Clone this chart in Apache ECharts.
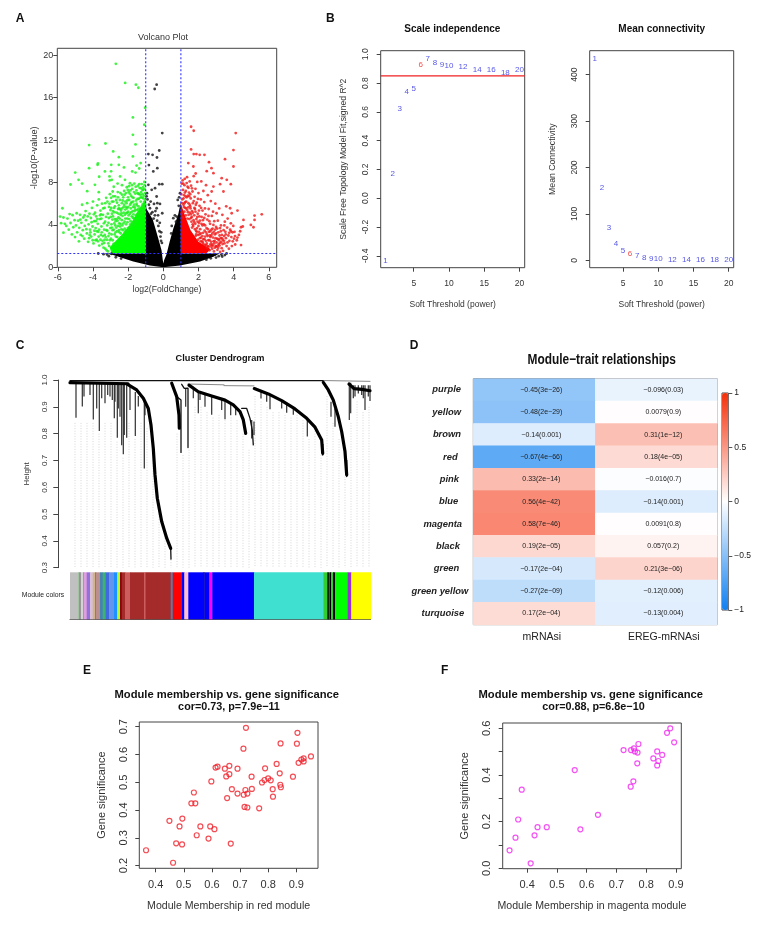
<!DOCTYPE html>
<html><head><meta charset="utf-8">
<style>html,body{margin:0;padding:0;background:#fff}#c{width:767px;height:929px}</style>
<script src="https://cdn.jsdelivr.net/npm/echarts@6/dist/echarts.min.js"></script>
</head><body><div id="c"></div>
<script>
// ---------- Panel A: volcano ----------
const volcanoTicksX=[-6,-4,-2,0,2,4,6];
const volcanoTicksY=[0,4,8,12,16,20];
const volcanoCutoffs={fcLow:-1,fcHigh:1,p:1.3};
const blackMass=[[-1,5.9],[-0.95,5.5],[-0.6,4.5],[-0.42,3.5],[-0.25,2.5],[-0.1,1.6],[-0.03,0.7],[0,0.35],[0.05,0.7],[0.18,1.2],[0.36,2.4],[0.58,3.7],[0.85,5],[1,6.2],[1,1.3],[3.2,1.3],[2.85,1],[2.09,0.54],[0.95,0.16],[0,0],[-0.76,0.16],[-1.71,0.54],[-2.85,1.17],[-3.3,1.3],[-1,1.3]];
const greenMass=[[-1,1.32],[-2.95,1.32],[-3.05,1.9],[-2.7,2.5],[-2.3,3.2],[-1.85,4.1],[-1.45,5.3],[-1,6.4]];
const redMass=[[1,1.32],[2.45,1.32],[2.7,1.7],[2,2.4],[1.55,3.5],[1.25,4.8],[1,6]];
const blackPts=[[-0.38,17.23],[-0.49,16.82],[-0.06,12.66],[-0.23,11.02],[-0.85,10.68],[-0.61,10.61],[-0.36,10.36],[-0.82,9.64],[-0.34,9.35],[-0.57,9.04],[-0.23,7.84],[-0.06,7.84],[-0.47,7.46],[-0.66,7.31],[-0.85,7.78],[-0.93,6.99],[-0.38,6.68],[-0.34,6.05],[-0.19,5.98],[-0.53,5.98],[-0.76,5.57],[-0.06,5.1],[-0.38,5.57],[0.57,4.63],[0.76,4.79],[0.82,6.36],[0.95,6.99],[0.9,6.6],[0.88,5.8],[0.72,4.3],
[-0.9,6.4],[-0.72,6.2],[-0.62,5.2],[-0.48,4.9],[-0.55,4.6],[-0.35,4.4],[-0.28,3.9],[-0.22,3.4],[-0.16,2.9],[-0.13,2.5],[-0.3,4.9],[-0.2,4.2],[-0.95,6.7],[-0.82,5.9],[-0.7,5.05],[-0.45,5.3],[-0.12,3.3],[-0.08,2.3],[0.48,3.9],[0.45,3.2],[0.66,4.9],
[-3.4,1.24],[-3.1,1.05],[-2.95,1.28],[-3.7,1.3],[-2.7,0.95],[-2.4,0.82],[-3.2,1.2],[3.3,1.2],[3.15,1.05],[3.5,1.15],[3,0.92],[2.7,0.85],[2.45,0.72],[3.6,1.3],[2.95,1.2],[3.35,1.02]];
const greenPts=[[-2.7,19.2],[-2.17,17.39],[-1.56,17.23],[-1.42,16.94],[-1.03,15.05],[-1.73,14.14],[-1.08,13.45],[-1.73,12.5],[-1.58,11.59],[-4.22,11.53],[-3.29,11.68],[-2.85,10.93],[-1.73,10.46],[-2.53,10.39],[-3.72,9.8],[-3.74,9.67],[-5.01,8.94],[-4.22,9.35],[-3.32,9.04],[-4.82,8.25],[-5.28,7.81],[-4.62,7.9],[-4.33,7.18],[-3.65,8.54],[-3.89,7.78],[-3.67,7.09],[-2.96,9.67],[-2.24,9.42],[-2.53,9.67],[-1.29,9.83],[-1.52,9.6],[-1.37,9.32],[-1.77,9.04],[-1.58,8.94],[-2.97,9.05],[-3.06,8.57],[-2.93,8.25],[-2.46,8.57],[-2.18,8.25],[-1.9,7.93],[-3.05,8.2],[-2.82,7.6],[-2.6,7.9],[-2.35,7.75],
[-5.87,4.79],[-5.68,4.7],[-5.74,5.57],[-5.81,4.16],[-5.68,3.27],[-5.6,4.1],[-5.52,3.9],[-5.45,4.6],[-5.38,3.55],[-5.33,5.02],[-5.28,4.18],[-5.2,3.1],[-5.16,4.92],[-5.12,3.78],[-5.05,4.45],[-5.02,2.85],
[-4.97,3.95],[-4.93,5.1],[-4.9,3.3],[-4.85,4.4],[-4.8,2.45],[-4.78,3.72],[-4.74,4.95],[-4.7,3.05],[-4.66,4.2],[-4.62,5.9],[-4.58,3.5],[-4.55,4.7],[-4.5,2.7],[-4.47,3.9],[-4.42,5.3],[-4.4,4.45],[-4.35,3.2],[-4.33,6.05],[-4.28,2.4],[-4.25,4.05],[-4.2,5.05],[-4.17,3.55],[-4.12,4.65],[-4.1,2.9],[-4.06,5.6],[-4.03,3.85],[-4,6.2],
[-3.97,2.25],[-3.94,4.35],[-3.91,3.1],[-3.88,5.15],[-3.85,3.7],[-3.82,4.8],[-3.79,2.6],[-3.76,5.85],[-3.73,4.1],[-3.7,3.35],[-3.67,6.4],[-3.64,2.05],[-3.61,4.55],[-3.58,5.35],[-3.55,3.05],[-3.52,3.85],[-3.49,6.0],[-3.46,2.5],[-3.43,4.95],[-3.4,1.85],[-3.37,3.55],[-3.34,5.6],[-3.31,4.3],[-3.28,2.85],[-3.25,6.55],[-3.22,1.6],[-3.19,3.95],[-3.16,5.05],[-3.13,2.25],[-3.1,4.65],[-3.07,3.2],[-3.04,6.9],[-3.01,5.4],
[-2.98,2.7],[-2.95,4.05],[-2.92,6.2],[-2.89,3.5],[-2.86,4.8],[-2.83,2.2],[-2.8,5.6],[-2.77,3.1],[-2.74,6.7],[-2.71,4.35],[-2.68,3.75],[-2.65,5.15],[-2.62,2.85],[-2.59,7.1],[-2.56,4.7],[-2.53,5.85],[-2.5,3.3],[-2.47,6.35],[-2.44,4.1],[-2.41,5.35],[-2.38,3.6],[-2.35,6.85],[-2.32,4.85],[-2.29,2.95],[-2.26,5.7],[-2.23,7.2],[-2.2,4.3],[-2.17,6.2],[-2.14,3.45],[-2.11,5.1],[-2.08,7.55],[-2.05,4.6],[-2.02,3.7],
[-2.9,4.5],[-2.78,5.2],[-2.7,2.9],[-2.58,3.9],[-2.48,4.6],[-2.4,2.8],[-2.33,3.95],[-2.25,5.15],[-2.19,3.3],[-2.12,4.05],[-2.06,5.55],[-2.01,6.6],[-1.98,4.9],[-1.95,7.65],[-1.92,3.8],[-1.89,5.9],[-1.86,4.35],[-1.83,6.75],[-1.8,3.95],[-1.77,7.4],[-1.74,5.3],[-1.71,6.2],[-1.68,4.6],[-1.65,7.9],[-1.62,5.65],[-1.59,6.95],[-1.56,4.9],[-1.53,7.25],[-1.5,5.4],[-1.47,6.45],[-1.44,7.7],[-1.41,5.75],[-1.38,6.9],[-1.35,7.5],[-1.32,5.55],[-1.29,6.2],[-1.26,7.1],[-1.23,7.85],[-1.2,6.55],[-1.17,5.95],[-1.14,7.3],[-1.11,6.75],[-1.08,8.05],[-1.05,6.35],[-1.03,7.0],[-1.02,5.9],
[-2.96,5.6],[-2.84,6.2],[-2.75,5.75],[-2.63,6.1],[-2.55,5.05],[-2.45,5.5],[-2.36,6.05],[-2.28,6.6],[-2.16,5.45],[-2.09,6.05],[-2.04,4.25],[-1.99,5.7],[-1.94,6.35],[-1.9,5.05],[-1.85,5.55],[-1.8,4.8],[-1.76,6.6],[-1.7,5.0],[-1.66,5.9],[-1.6,4.45],[-1.55,6.3],[-1.48,4.95],[-1.43,5.5],[-1.4,6.45],[-1.34,5.15],[-1.28,7.45],[-1.24,5.4],[-1.18,6.9],[-1.12,5.7],[-1.07,7.4],
[-3.36,2.3],[-3.3,1.75],[-3.2,2.6],[-3.15,1.5],[-3.08,2.0],[-3.02,3.7],[-2.94,3.1],[-2.88,2.55],[-2.82,3.55],[-2.72,3.3],[-2.6,4.4],[-2.52,3.5],[-2.42,3.2],[-2.3,3.5],[-2.2,3.65],[-2.1,3.45],[-1.97,3.6],[-1.88,4.05],[-1.78,4.2],[-1.68,4.05],[-1.58,4.3],[-1.45,4.6],[-1.33,4.95],[-1.2,5.2],[-1.1,5.4],[-3.5,3.3],[-3.58,2.6],[-3.68,2.9],[-3.78,3.4],[-3.86,2.55],[-4.02,2.55],[-4.15,3.3],
[-3.44,2.95],[-3.12,4.2],[-2.66,4.55],[-3.33,3.05],[-2.99,4.75],[-2.51,4.15],[-3.18,3.45],[-2.87,5.3],[-2.36,4.45],[-3.26,4.75],[-2.93,3.75],[-2.43,4.95],[-3.04,2.55],[-2.79,4.15],[-2.27,4.15],[-3.09,5.7],[-2.73,3.95],[-2.16,4.6],[-3.38,4.15],[-2.97,6.55],[-2.62,3.4],[-2.04,5.15],[-3.52,4.6],[-2.85,6.7],[-2.57,5.5],[-1.94,4.55],[-3.65,3.55],[-2.68,6.35],[-2.46,3.85],[-1.82,5.2],[-3.75,4.55],[-2.58,6.6],[-2.38,5.1],[-1.73,4.7],[-3.84,4.35],[-2.44,7.0],[-2.23,5.9],[-1.63,5.3],[-3.95,5.0],[-2.31,6.3],[-2.13,5.7],[-1.51,5.85],[-4.08,4.25],[-2.2,6.85],[-2.05,6.3],[-1.42,6.95],[-4.19,3.05],[-2.12,7.0],[-1.97,7.1],[-1.33,6.55],[-4.3,4.8],[-2.02,7.3],[-1.87,7.25],[-1.25,6.65],[-3.55,5.0],[-1.91,6.95],[-1.78,7.75],[-1.16,7.55],[-3.42,5.55],[-1.8,6.15],[-1.67,7.1],[-1.09,6.15],[-3.3,6.05],[-1.69,6.55],[-1.57,7.6],[-1.06,7.75],[-3.18,6.2],[-1.6,5.45],[-1.47,7.0],[-1.13,6.5],[-3.06,6.0],[-1.52,6.0],[-1.37,7.85],[-1.21,5.75],[-2.88,7.15],[-1.44,5.1],[-1.3,6.85],[-1.19,7.3],[-3.6,4.9],[-3.92,3.45],[-4.38,3.6],[-4.48,4.9],[-4.6,2.95],[-4.72,4.5],[-4.22,2.75],[-3.72,2.45],[-3.48,2.2],[-3.34,2.6],[-3.24,3.5],[-3.12,2.95],[-2.92,5.05],[-2.76,4.55],[-2.52,5.55],[-2.34,5.55],[-2.18,4.95],[-2.0,5.25],[-1.84,6.05],[-1.72,5.7]];
const redPts=[[1.58,13.26],[1.73,12.88],[4.12,12.66],[3.99,11.06],[1.58,11.12],[1.73,10.68],[1.88,10.68],[2.07,10.61],[2.34,10.61],[3.51,10.2],[2.6,9.92],[1.42,9.83],[1.71,9.51],[2.74,9.35],[2.47,9.07],[3.99,9.51],[1.84,8.85],[2.85,8.88],[3.32,8.41],[3.23,7.84],[3.61,8.25],[3.84,7.84],[2.85,7.62],[2.75,7.15],[3.42,7.15],[5.6,5],[5.19,4.88],[5.19,4.47],[4.98,4],[5.13,3.78],[4.56,4.47],[4.22,5.35],[3.8,5.57],[3.89,5.1],[4.42,3.78],[4.52,3.85],[4.37,3.4],[4.22,2.8],[4.18,2.55],[4.09,2.15],[4.42,2.1],
[1.02,6.9],[1.05,7.9],[1.08,6.4],[1.1,8.2],[1.12,7.3],[1.15,5.9],[1.18,6.8],[1.2,7.75],[1.22,8.35],[1.25,6.15],[1.28,7.2],[1.3,5.55],[1.33,6.6],[1.35,8.5],[1.38,7.6],[1.4,5.2],[1.43,6.05],[1.46,7.05],[1.48,4.55],[1.5,8.1],[1.53,5.75],[1.56,6.5],[1.58,7.7],[1.6,4.3],[1.63,5.3],[1.66,7.15],[1.68,6.05],[1.7,3.9],[1.73,8.6],[1.76,4.9],[1.78,6.65],[1.8,5.5],[1.83,7.4],[1.86,3.45],[1.88,4.55],[1.9,6.1],[1.93,8.05],[1.96,5.05],[1.98,3.05],[2,7.0],[2.03,4.2],[2.06,5.8],[2.08,2.75],[2.1,3.6],[2.13,6.4],[2.16,8.1],[2.18,4.75],[2.2,2.45],[2.23,5.35],[2.26,3.25],[2.28,7.2],[2.3,4.05],[2.33,6.15],[2.36,2.1],[2.38,2.9],[2.4,5.0],[2.43,7.75],[2.46,3.7],[2.48,1.85],[2.5,4.5],[2.53,6.8],[2.56,2.55],[2.58,5.5],[2.6,3.35],[2.63,1.6],[2.66,4.1],[2.68,2.15],[2.7,6.25],[2.73,3.0],[2.76,4.85],[2.78,1.75],[2.8,3.65],[2.83,5.25],[2.86,2.45],[2.88,1.5],[2.9,4.35],[2.93,3.1],[2.96,6.0],[2.98,2.0],[3,3.8],[3.03,5.1],[3.06,2.7],[3.08,1.65],[3.1,4.4],[3.13,3.3],[3.16,2.2],[3.18,5.55],[3.2,3.0],[3.23,1.45],[3.26,2.75],[3.28,3.95],[3.3,2.4],[3.33,3.05],[3.36,4.95],[3.38,2.6],[3.4,1.55],[3.43,3.5],[3.46,2.95],[3.48,2.25],[3.5,4.3],[3.53,3.35],[3.56,2.75],[3.58,5.75],[3.6,2.0],[3.63,3.75],[3.66,4.6],[3.7,3.0],[3.73,1.75],[3.76,2.5],[3.8,3.55],[3.84,4.15],[3.87,2.85],[3.9,2.0],[3.94,3.3],[3.98,3.9],[4.02,2.7],[4.05,3.35],
[1.05,5.1],[1.12,4.7],[1.2,5.25],[1.28,4.9],[1.36,5.4],[1.44,4.95],[1.52,5.15],[1.58,4.65],[1.64,3.75],[1.72,4.45],[1.8,3.6],[1.84,2.95],[1.92,3.7],[1.97,2.6],[2.02,3.35],[2.08,4.4],[2.14,2.8],[2.22,2.95],[2.28,2.2],[2.35,3.45],[2.42,2.5],[2.52,2.95],[2.58,1.95],[2.64,3.0],[2.72,2.4],[2.82,2.05],[2.92,2.5],[3.02,1.95],[3.12,1.85],[3.22,2.3],[3.32,1.8],[1.15,6.5],[1.25,5.6],[1.42,5.65],[1.55,5.55],[1.68,5.15],[1.85,5.9],[1.95,4.3],[2.05,4.8],[2.15,5.6],[2.25,4.45],[2.38,3.95],[2.48,3.1],[2.62,4.35],[2.74,3.55],[2.85,4.0],[2.95,3.55],
[1.07,6.05],[1.17,5.7],[1.27,6.7],[1.37,4.6],[1.47,6.7],[1.57,5.0],[1.67,4.05],[1.77,5.6],[1.87,3.1],[1.97,6.45],[2.07,3.1],[2.17,4.1],[2.27,2.65],[2.37,5.55],[2.47,2.25],[2.57,4.85],[2.67,3.4],[2.77,2.15],[2.87,3.35],[2.97,2.75],[3.07,3.65],[3.17,2.55],[3.27,3.4],[3.37,2.2],[3.47,3.95],[1.13,7.9],[1.23,7.05],[1.33,7.95],[1.43,7.5],[1.53,6.9],[1.63,7.45],[1.73,6.25],[1.83,5.25],[1.93,4.75],[2.03,5.35],[2.13,3.2],[2.23,3.95],[2.33,4.65],[2.43,3.3],[2.53,2.0],[2.63,2.55],[2.73,1.95],[2.83,2.8],[2.93,1.85],[3.03,2.35],[3.13,2.65],[3.23,3.7],[3.33,2.75],[3.45,2.5],[3.55,3.1],[3.65,2.35],[3.75,3.25],[3.85,3.4],[3.95,2.45],[4.08,2.95],[4.3,3.05],[1.9,3.35],[2.0,3.9],[2.12,2.45],[2.24,2.35],[2.34,2.65],[2.44,2.1],[2.54,3.6],[2.68,2.85],[2.79,3.2],[2.9,2.25],[3.0,3.2],[3.1,2.05],[3.2,2.05],[1.76,4.25],[1.82,4.1],[1.62,4.75],[1.5,5.9],[1.4,6.75],[1.3,6.2],[1.2,6.05]];
// ---------- Panel B ----------
const softPowers=[1,2,3,4,5,6,7,8,9,10,12,14,16,18,20];
const scaleFit=[-0.433,0.172,0.62,0.74,0.759,0.93,0.972,0.94,0.93,0.919,0.914,0.889,0.889,0.868,0.891];
const meanConnectivity=[434,156,70,36,21,14,9,6.5,4.3,3.6,2,1.4,0.7,0.7,0.7];
const chosenPower=6;
const fitCutoff=0.85;
const powerTicks=[5,10,15,20];
const fitTicks=[-0.4,-0.2,0,0.2,0.4,0.6,0.8,1];
const connTicks=[0,100,200,300,400];
// ---------- Panel C: dendrogram, x = leaf order, y = height ----------
const heightTicks=[0.3,0.4,0.5,0.6,0.7,0.8,0.9,1];
const thickBranches=[
 [[0,0.99],[58,0.986]],
 [[58,0.983],[66.7,0.963],[73.3,0.932],[78.3,0.894],[81,0.832],[83.3,0.745],[85,0.646],[87.3,0.559],[91.7,0.472],[96.7,0.41],[100.7,0.372]],
 [[101.7,0.988],[106.7,0.938],[109,0.869],[109.3,0.82]],
 [[119,0.981],[128.3,0.956],[141.7,0.94],[155,0.925],[163.3,0.907],[170,0.882],[173.3,0.851],[175.7,0.801]],
 [[184.3,0.968],[198.3,0.948],[211.7,0.923],[225,0.892],[236.7,0.857],[245,0.824],[251.7,0.776],[252.7,0.726]],
 [[253.3,0.991],[258.3,0.963],[263.3,0.925],[268.3,0.863],[271.7,0.807],[275,0.733],[276.7,0.646]],
 [[279,0.985],[284,0.968],[292,0.965],[300,0.96]]];
const thinBranches=[
 [[0,0.998],[253,0.998]],
 [[171.7,0.894],[176.7,0.894],[180,0.857],[182.3,0.813],[183.3,0.758]],
 [[106.7,0.938],[111,0.925],[111,0.73]],[[111.7,0.984],[114.3,0.969],[118,0.97],[118,0.748]],
 [[100.7,0.372],[101,0.332]],[[252.7,0.76],[252.7,0.72]],[[276.7,0.7],[276.7,0.64]]];
const greyLinks=[[[253,0.998],[300,0.995]],[[118,0.985],[154,0.982]],[[154,0.979],[184,0.978]]];
const dropX=[6,12.3,14,20,23.3,26.7,29.3,31.7,35,37.7,40,42.3,44.3,45,47.3,48.3,50,51.7,53.3,54.3,56.7,60,65.3,68.3,74.3,75,115.7,123.3,128.3,130,135,141.7,151.7,155,160.7,165.7,181.7,184,191,196.7,200,211.7,216.7,223.3,237.3,261,265,279.3,280.7,283.3,285,288.3,291.7,293.3,295,298.3,300];
const dropTop=[0.99,0.99,0.99,0.99,0.99,0.99,0.99,0.99,0.99,0.99,0.99,0.99,0.99,0.99,0.99,0.99,0.99,0.99,0.99,0.99,0.99,0.975,0.955,0.94,0.93,0.92,0.969,0.975,0.956,0.95,0.945,0.94,0.928,0.925,0.915,0.9,0.851,0.845,0.96,0.95,0.945,0.925,0.915,0.9,0.857,0.919,0.894,0.99,0.99,0.98,0.98,0.98,0.98,0.98,0.98,0.98,0.98];
const dropBottom=[0.859,0.901,0.938,0.944,0.853,0.894,0.81,0.932,0.913,0.944,0.938,0.925,0.857,0.919,0.785,0.894,0.863,0.757,0.723,0.795,0.785,0.888,0.791,0.901,0.67,0.869,0.9,0.932,0.876,0.925,0.9,0.87,0.888,0.854,0.869,0.869,0.782,0.795,0.931,0.919,0.891,0.894,0.878,0.87,0.789,0.863,0.826,0.851,0.876,0.932,0.938,0.95,0.944,0.932,0.888,0.938,0.922];
const guideX=[5,11,17,23,29,35,41,47,53,59,65,71,77,83,89,95,101,107,113,119,125,131,137,143,149,155,161,167,173,179,185,191,197,203,209,215,221,227,233,239,245,251,257,263,269,275,281,287,293,299];
const guideTop=[0.84,0.84,0.84,0.84,0.8,0.84,0.84,0.77,0.71,0.84,0.78,0.84,0.82,0.72,0.52,0.42,0.33,0.8,0.72,0.74,0.9,0.9,0.88,0.86,0.87,0.85,0.86,0.85,0.8,0.74,0.94,0.92,0.9,0.88,0.88,0.87,0.86,0.87,0.85,0.78,0.81,0.72,0.94,0.84,0.78,0.64,0.84,0.92,0.88,0.9];
const moduleBands=[[0,8.3,'silver'],[8.3,9.3,'darkseagreen'],[9.3,10.7,'grey'],[10.7,13.3,'lightgrey'],[13.3,14,'mediumorchid'],[14,16.7,'plum'],[16.7,20,'mediumpurple'],[20,22.7,'thistle'],[22.7,25,'tan'],[25,26,'grey'],[26,30,'rosybrown'],[30,32.7,'steelblue'],[32.7,35.3,'mediumseagreen'],[35.3,39.3,'royalblue'],[39.3,44,'cornflowerblue'],[44,47.3,'dodgerblue'],[47.3,50,'greenyellow'],[50,51.7,'darkred'],[51.7,55,'brown'],[55,60,'indianred'],[60,74,'brown'],[74,75.3,'indianred'],[75.3,100.7,'brown'],[100.7,102.7,'steelblue'],[102.7,112,'red'],[112,114.3,'blue'],[114.3,118.3,'pink'],[118.3,133.3,'blue'],[133.3,134.3,'black'],[134.3,139.3,'blue'],[139.3,142.3,'magenta'],[142.3,184,'blue'],[184,253.3,'turquoise'],[253.3,257.3,'limegreen'],[257.3,258.7,'black'],[258.7,260,'green'],[260,261,'black'],[261,263,'limegreen'],[263,265,'black'],[265,277.7,'lime'],[277.7,281.3,'darkorchid'],[281.3,300.7,'yellow']];
// ---------- Panel D ----------
const moduleNames=['purple','yellow','brown','red','pink','blue','magenta','black','green','green yellow','turquoise'];
const traits=['mRNAsi','EREG-mRNAsi'];
const mrnaCor=[-0.45,-0.48,-0.14,-0.67,0.33,0.56,0.58,0.19,-0.17,-0.27,0.17];
const mrnaP=['3e−26','2e−29','0.001','4e−66','2e−14','4e−42','7e−46','2e−05','2e−04','2e−09','2e−04'];
const eregCor=[-0.096,0.0079,0.31,0.18,-0.016,-0.14,0.0091,0.057,0.21,-0.12,-0.13];
const eregP=['0.03','0.9','1e−12','4e−05','0.7','0.001','0.8','0.2','3e−06','0.006','0.004'];
// ---------- Panels E, F ----------
const redMM=[0.366,0.462,0.449,0.473,0.494,0.485,0.495,0.527,0.541,0.536,0.546,0.559,0.588,0.594,0.609,0.598,0.613,0.62,0.646,0.651,0.662,0.662,0.654,0.667,0.671,0.691,0.691,0.713,0.719,0.716,0.726,0.726,0.712,0.721,0.741,0.742,0.768,0.778,0.787,0.789,0.8,0.809,0.816,0.817,0.83,0.841,0.844,0.843,0.845,0.888,0.902,0.904,0.908,0.918,0.926,0.926,0.952];
const redGS=[0.255,0.21,0.361,0.28,0.276,0.341,0.369,0.424,0.424,0.463,0.309,0.341,0.297,0.341,0.331,0.503,0.553,0.556,0.549,0.521,0.559,0.529,0.443,0.279,0.475,0.549,0.459,0.455,0.472,0.411,0.409,0.459,0.621,0.696,0.52,0.476,0.406,0.499,0.508,0.55,0.514,0.507,0.475,0.448,0.566,0.532,0.64,0.491,0.482,0.52,0.639,0.678,0.57,0.582,0.586,0.575,0.593];
const magentaMM=[0.341,0.361,0.37,0.382,0.412,0.425,0.435,0.466,0.56,0.579,0.638,0.724,0.748,0.757,0.749,0.759,0.762,0.771,0.77,0.774,0.824,0.837,0.841,0.837,0.854,0.87,0.881,0.894];
const magentaGS=[0.077,0.131,0.209,0.337,0.021,0.141,0.176,0.176,0.421,0.167,0.229,0.507,0.35,0.373,0.507,0.514,0.501,0.496,0.45,0.533,0.471,0.501,0.46,0.441,0.486,0.581,0.6,0.54];
const redTicksX=[0.4,0.5,0.6,0.7,0.8,0.9];
const redTicksY=[0.2,0.3,0.4,0.5,0.6,0.7];
const magTicksX=[0.4,0.5,0.6,0.7,0.8,0.9];
const magTicksY=[0,0.1,0.2,0.3,0.4,0.5,0.6];
const magLabelsY=[0,0.2,0.4,0.6];

// ---------- Chart ----------
const FONT='"Liberation Sans",Arial,sans-serif';
const GREY='#444', TXT='#333';
function fmt(d){return v=>v.toFixed(d);}
function ax(grid,min,max,ticks,labels,dec,o){o=o||{};return {
  type:'value',gridIndex:grid,min,max,
  axisLine:{show:false,onZero:false},splitLine:{show:false},
  axisTick:{show:true,length:o.tick||4,lineStyle:{color:GREY,width:1},customValues:ticks},
  axisLabel:{show:true,customValues:labels,formatter:fmt(dec),color:TXT,fontFamily:FONT,fontSize:o.fs||8.5,margin:o.margin||4,rotate:o.rotate||0},
  name:o.name||'',nameLocation:'middle',nameGap:o.gap||20,
  nameTextStyle:{color:TXT,fontFamily:FONT,fontSize:o.nfs||8.5}};}
const grids=[
 {left:57.3,top:48.3,width:219.4,height:219},
 {left:380.7,top:50.7,width:144,height:217},
 {left:589.7,top:50.7,width:144,height:217},
 {left:70,top:380,width:300.7,height:187.7,show:false},
 {left:70,top:572.3,width:300.7,height:47,show:false},
 {left:473.3,top:378.7,width:244,height:246},
 {left:722,top:393,width:6.3,height:217},
 {left:139.3,top:722,width:178.7,height:146.3},
 {left:502.7,top:723,width:178.6,height:145.7}
].map(g=>Object.assign({show:true,borderColor:GREY,borderWidth:1,backgroundColor:'transparent'},g));
grids[5].borderColor='#888';

function polyFill(grid,pts,color,z){return {type:'custom',xAxisIndex:grid,yAxisIndex:grid,silent:true,z,clip:true,data:[[0,0]],
  renderItem:(p,api)=>({type:'polygon',shape:{points:pts.map(q=>api.coord(q))},style:{fill:color}})};}
function dots(grid,pts,color,z){return {type:'scatter',xAxisIndex:grid,yAxisIndex:grid,data:pts,symbolSize:2.8,silent:true,z,large:false,itemStyle:{color}};}
function rule(grid,a,b,color,dash,z){return {type:'line',xAxisIndex:grid,yAxisIndex:grid,data:[a,b],showSymbol:false,silent:true,z,
  lineStyle:{color,width:1.1,type:dash?[2,2]:'solid'}};}
function branchLines(grid,list,color,width,z){return list.map(pts=>({type:'line',xAxisIndex:grid,yAxisIndex:grid,data:pts,showSymbol:false,silent:true,z,clip:false,
  lineStyle:{color,width,cap:'round',join:'round'}}));}
function powerLabels(grid,ys){return {type:'scatter',xAxisIndex:grid,yAxisIndex:grid,symbolSize:10,silent:true,z:5,
  itemStyle:{color:'transparent'},
  data:softPowers.map((s,i)=>({value:[s,ys[i]],label:{color:s===chosenPower?'#f02020':'#2a2ae0'}})),
  label:{show:true,position:'inside',fontFamily:FONT,fontSize:8,formatter:p=>String(p.value[0])}};}
function openDots(grid,xs,ys,color){return {type:'scatter',xAxisIndex:grid,yAxisIndex:grid,silent:true,symbolSize:5,
  data:xs.map((x,i)=>[x,ys[i]]),itemStyle:{color:'transparent',borderColor:color,borderWidth:1.2}};}

const hmData=[];
moduleNames.forEach((m,i)=>{hmData.push([0,i,mrnaCor[i]]);hmData.push([1,i,eregCor[i]]);});
const corText=(v,p)=>String(v).replace('-','−')+'('+p+')';

function hd(text,x,y,size,weight,color){return {text,left:x,top:y,textAlign:'center',textVerticalAlign:'middle',padding:0,
  textStyle:{fontFamily:FONT,fontSize:size,fontWeight:weight||'bold',color:color||'#111'}};}

const rowInset={purple:7.3,yellow:7.3,brown:7.3,red:10.6,pink:9.3,blue:10,magenta:6.3,black:8.3,green:9,'green yellow':0,turquoise:4};
const xAxes=[
 ax(0,-6.03,6.45,volcanoTicksX,volcanoTicksX,0,{name:'log2(FoldChange)',gap:18,margin:6,fs:9,nfs:8.6}),
 ax(1,0.31,20.75,powerTicks,powerTicks,0,{name:'Soft Threshold (power)',gap:32,margin:11,fs:8.5,nfs:8.5}),
 ax(2,0.27,20.71,powerTicks,powerTicks,0,{name:'Soft Threshold (power)',gap:32,margin:11,fs:8.5,nfs:8.5}),
 {type:'value',gridIndex:3,min:0,max:300.7,show:false},
 {type:'value',gridIndex:4,min:0,max:300.7,axisLabel:{show:false},axisTick:{show:false},splitLine:{show:false},axisLine:{show:true,onZero:false,lineStyle:{color:'#555'}}},
 {type:'category',gridIndex:5,data:traits,axisTick:{show:false},axisLine:{show:false},splitLine:{show:false},
  axisLabel:{color:'#222',fontFamily:FONT,fontSize:10.5,margin:7,padding:[0,0,0,15]}},
 {type:'value',gridIndex:6,min:0,max:1,show:false},
 ax(7,0.342,0.977,redTicksX,redTicksX,1,{name:'Module Membership in red module',gap:32,margin:11,fs:11,nfs:10.6,tick:4}),
 ax(8,0.318,0.918,magTicksX,magTicksX,1,{name:'Module Membership in magenta module',gap:32,margin:11,fs:11,nfs:10.6,tick:4})
];
const hAxis=ax(3,0.3,1,heightTicks,heightTicks,1,{name:'Height',gap:28,margin:10,fs:8,nfs:8,rotate:90,tick:5});
hAxis.offset=11.7;hAxis.axisLine={show:true,onZero:false,lineStyle:{color:GREY}};
const cbAxis={type:'value',gridIndex:6,position:'right',min:-1,max:1,interval:0.5,splitLine:{show:false},
  axisLine:{show:false,onZero:false},axisTick:{show:true,length:4,lineStyle:{color:'#555'}},
  axisLabel:{color:'#222',fontFamily:FONT,fontSize:8.5,margin:6,formatter:v=>String(v).replace('-','−')}};
const yAxes=[
 ax(0,0,20.66,volcanoTicksY,volcanoTicksY,0,{name:'-log10(P-value)',gap:18,margin:4,fs:9,nfs:9.2}),
 ax(1,-0.483,1.025,fitTicks,fitTicks,1,{name:'Scale Free Topology Model Fit,signed R^2',gap:33,margin:11,fs:8.5,nfs:8.6,rotate:90}),
 ax(2,-15.9,451.7,connTicks,connTicks,0,{name:'Mean Connectivity',gap:33,margin:11,fs:8.5,nfs:8.7,rotate:90}),
 hAxis,
 {type:'value',gridIndex:4,min:0,max:1,show:false},
 {type:'category',gridIndex:5,inverse:true,
  data:moduleNames.map(n=>({value:n,textStyle:{padding:[0,rowInset[n],0,0]}})),
  axisTick:{show:false},axisLine:{show:false},splitLine:{show:false},
  axisLabel:{margin:5,color:'#222',fontFamily:FONT,fontSize:9.4,fontWeight:'bold',fontStyle:'italic'}},
 cbAxis,
 ax(7,0.19,0.717,redTicksY,redTicksY,1,{name:'Gene significance',gap:32,margin:10,fs:11,nfs:11,rotate:90}),
 ax(8,-0.002,0.623,magTicksY,magLabelsY,1,{name:'Gene significance',gap:32,margin:10,fs:11,nfs:11,rotate:90})
];

const option={
 animation:false,backgroundColor:'#fff',
 textStyle:{fontFamily:FONT},
 grid:grids,xAxis:xAxes,yAxis:yAxes,
 title:[
  hd('A',20,19,12),hd('B',330.3,19,12),hd('C',20,346,12),hd('D',414,346,12),hd('E',87,671,12),hd('F',444.7,671,12),
  hd('Volcano Plot',163,38,9,'normal','#333'),
  hd('Scale independence',452.3,29,10),
  hd('Mean connectivity',661.7,29,10),
  hd('Cluster Dendrogram',220,358,9.2),
  hd('Module colors',43,595,6.8,'normal','#222'),
  hd('Module membership vs. gene significance',226.7,694.5,11.2),
  hd('cor=0.73, p=7.9e−11',229,707.5,10.8),
  hd('Module membership vs. gene significance',590.7,694.5,11.2),
  hd('cor=0.88, p=6.8e−10',593.5,707.5,10.8)
 ],
 graphic:[
  {type:'text',x:601.7,y:360,scaleX:0.82,z:100,style:{text:'Module−trait relationships',fontFamily:FONT,fontSize:14.5,fontWeight:'bold',fill:'#111',textAlign:'center',textVerticalAlign:'middle'}},
  {type:'rect',z:1000,shape:{x:340,y:687,width:8,height:14},style:{fill:'#fff'}},
  {type:'rect',z:1000,shape:{x:703.3,y:687,width:8,height:14},style:{fill:'#fff'}}
 ],
 series:[
  polyFill(0,blackMass,'#000',2),
  polyFill(0,greenMass,'#00ff00',3),
  polyFill(0,redMass,'#ff0000',3),
  dots(0,blackPts,'#111',4),
  dots(0,greenPts,'#17f017',4),
  dots(0,redPts,'#f01818',4),
  rule(0,[volcanoCutoffs.fcLow,0],[volcanoCutoffs.fcLow,20.66],'#3030ff',true,6),
  rule(0,[volcanoCutoffs.fcHigh,0],[volcanoCutoffs.fcHigh,20.66],'#3030ff',true,6),
  rule(0,[-6.03,volcanoCutoffs.p],[6.45,volcanoCutoffs.p],'#3030ff',true,6),
  rule(1,[0.31,fitCutoff],[20.75,fitCutoff],'#f02020',false,4),
  powerLabels(1,scaleFit),
  powerLabels(2,meanConnectivity),
  {type:'custom',xAxisIndex:3,yAxisIndex:3,silent:true,z:1,data:guideX.map((x,i)=>[x,guideTop[i]]),
   renderItem:(p,api)=>{const a=api.coord([api.value(0),api.value(1)]),b=api.coord([api.value(0),0.3]);
    return {type:'line',shape:{x1:a[0],y1:a[1],x2:b[0],y2:b[1]},style:{stroke:'#d6d6d6',lineWidth:1,lineDash:[1,1.6]}};}},
  {type:'custom',xAxisIndex:3,yAxisIndex:3,silent:true,z:2,data:dropX.map((x,i)=>[x,dropTop[i],dropBottom[i]]),
   renderItem:(p,api)=>{const a=api.coord([api.value(0),api.value(1)]),b=api.coord([api.value(0),api.value(2)]);
    return {type:'line',shape:{x1:a[0],y1:a[1],x2:b[0],y2:b[1]},style:{stroke:'#2e2e2e',lineWidth:1.2}};}},
  ...branchLines(3,greyLinks,'#888',1,2),
  ...branchLines(3,thinBranches,'#111',1.3,3),
  ...branchLines(3,thickBranches,'#000',3.2,4),
  {type:'custom',xAxisIndex:4,yAxisIndex:4,silent:true,data:moduleBands.map((b,i)=>[i,b[0],b[1]]),
   renderItem:(p,api)=>{const b=moduleBands[p.dataIndex],a=api.coord([b[0],1]),c=api.coord([b[1],0]);
    return {type:'rect',shape:{x:a[0],y:a[1],width:c[0]-a[0]+0.4,height:c[1]-a[1]},style:{fill:b[2]}};}},
  {type:'heatmap',xAxisIndex:5,yAxisIndex:5,data:hmData,silent:true,
   label:{show:true,color:'#222',fontFamily:FONT,fontSize:7,offset:[7,0],
    formatter:p=>{const i=p.value[1];return p.value[0]===0?corText(mrnaCor[i],mrnaP[i]):corText(eregCor[i],eregP[i]);}}},
  {type:'scatter',xAxisIndex:6,yAxisIndex:6,data:[],silent:true},
  openDots(7,redMM,redGS,'#f0202a'),
  openDots(8,magentaMM,magentaGS,'#f028f0')
 ]
};
const HM_INDEX=option.series.findIndex(s=>s.type==='heatmap');
option.visualMap=[{type:'continuous',seriesIndex:HM_INDEX,min:-1,max:1,calculable:false,realtime:false,
  left:722,top:393,itemWidth:6.3,itemHeight:217,padding:0,text:null,showLabel:false,hoverLink:false,
  inRange:{color:['#0f80f0','#ffffff','#f4300a']},textStyle:{fontSize:0}}];
const chart=echarts.init(document.getElementById('c'),null,{renderer:'canvas',width:767,height:929});
chart.setOption(option);
</script></body></html>
